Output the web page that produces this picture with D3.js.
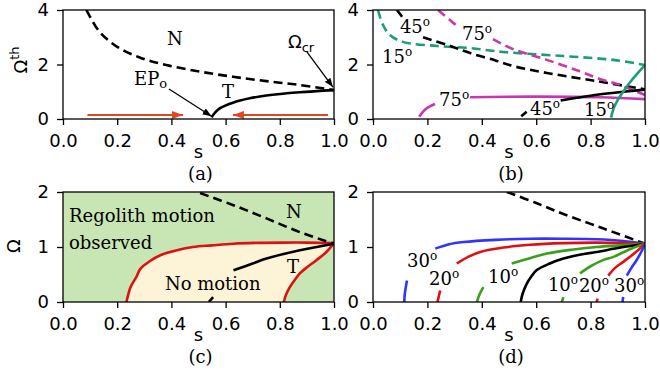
<!DOCTYPE html>
<html>
<head>
<meta charset="utf-8">
<script src="https://cdn.jsdelivr.net/npm/d3@7"></script>
<style>
  body { margin: 0; background: #fff; }
  svg { display: block; }
  .tick text { font-family: "DejaVu Sans", sans-serif; font-size: 18px; fill: #000; }
  .serif { font-family: "DejaVu Serif", serif; font-size: 18px; fill: #000; }
  .sans { font-family: "DejaVu Sans", sans-serif; font-size: 18px; fill: #000; }
</style>
</head>
<body>
<div id="chart"></div>
<script>
// ---- Data (s, Omega); NaN marks a gap left for a label ----
const xTicks = [0, 0.2, 0.4, 0.6, 0.8, 1.0];
const yTicksTop = [0, 2, 4];
const yTicksBottom = [0, 1, 2];

// (a)
const aNormal = [[0.086,4.0],[0.1,3.75],[0.135,3.2],[0.2,2.65],[0.283,2.26],[0.381,1.98],[0.504,1.74],[0.627,1.55],[0.75,1.39],[0.873,1.25],[1.0,1.06]];
const aTangent = [[0.548,0.06],[0.56,0.22],[0.578,0.39],[0.627,0.6],[0.689,0.76],[0.75,0.86],[0.873,0.98],[1.0,1.06]];
const aArrows = [ // from, to
  [[0.09,0.147],[0.443,0.147]],
  [[0.978,0.147],[0.627,0.147]]
];
const aPointers = [
  [[0.391,1.10],[0.548,0.10]],  // EP_o
  [[0.90,2.46],[0.996,1.17]]    // Omega_cr
];

// (b) angle variants
const bCurves = [
  { angle: "15", color: "#1b9e77", dashed: true,
    pts: [[0.018,4.0],[0.037,3.45],[0.062,3.08],[0.11,2.83],[0.235,2.68],[0.357,2.6],[0.478,2.46],[0.70,2.31],[0.884,2.17],[1.0,1.98]] },
  { angle: "45", color: "#000", dashed: true,
    pts: [[0.088,4.0],[0.107,3.75],[NaN,NaN],[0.184,3.0],[0.272,2.72],[0.357,2.42],[0.45,2.15],[0.516,1.94],[0.639,1.69],[0.822,1.39],[1.0,1.09]] },
  { angle: "75", color: "#c837ab", dashed: true,
    pts: [[0.239,4.0],[0.283,3.63],[0.313,3.38],[NaN,NaN],[0.441,2.93],[0.516,2.56],[0.639,2.17],[0.76,1.75],[0.84,1.45],[0.9,1.28],[0.95,1.08],[1.0,0.88]] },
  { angle: "75", color: "#c837ab", dashed: false,
    pts: [[0.17,0.08],[0.185,0.28],[0.198,0.40],[0.228,0.55],[NaN,NaN],[0.357,0.80],[0.588,0.82],[0.835,0.80],[1.0,0.73]] },
  { angle: "45", color: "#000", dashed: false,
    pts: [[0.545,0.1],[0.565,0.27],[NaN,NaN],[0.69,0.68],[0.75,0.78],[0.83,0.9],[0.92,1.0],[1.0,1.08]] },
  { angle: "15", color: "#1b9e77", dashed: false,
    pts: [[0.875,0.05],[0.885,0.4],[0.9,0.7],[0.92,1.0],[0.945,1.35],[0.97,1.65],[1.0,1.98]] }
];
const bLabels = [
  ["45",0.099,3.16],["75",0.327,2.9],["15",0.033,2.06],
  ["75",0.243,0.48],["45",0.577,0.15],["15",0.776,0.11]
];

// (c) regions
const cNormal = [[0.506,1.98],[0.629,1.76],[0.751,1.52],[0.874,1.27],[1.0,1.06]];
const cLeftBound = [[0.234,0],[0.24,0.12],[0.249,0.27],[0.27,0.45],[0.286,0.606],[0.32,0.74],[0.359,0.85],[0.42,0.94],[0.48,1.0],[0.55,1.03],[0.629,1.06],[0.72,1.075],[0.812,1.08],[0.9,1.08],[1.0,1.07]];
const cRightBound = [[0.815,0],[0.822,0.12],[0.837,0.27],[0.855,0.4],[0.874,0.52],[0.9,0.63],[0.935,0.76],[0.97,0.9],[1.0,1.07]];
const cTangent = [[0.538,0.0],[0.554,0.09],[NaN,NaN],[0.629,0.576],[0.70,0.70],[0.751,0.79],[0.874,0.94],[1.0,1.06]];

// (d) slope variants
const dNormal = [[0.492,2.0],[0.6,1.8],[0.7,1.6],[0.8,1.42],[0.884,1.27],[1.0,1.06]];
const dCurves = [
  { color: "#3333ff", pts: [[0.115,0],[0.117,0.15],[0.125,0.39],[NaN,NaN],[0.229,0.97],[0.28,1.05],[0.333,1.09],[0.45,1.13],[0.578,1.15],[0.7,1.15],[0.822,1.14],[0.92,1.11],[1.0,1.06]] },
  { color: "#dd1111", pts: [[0.237,0],[0.247,0.21],[NaN,NaN],[0.308,0.70],[0.35,0.82],[0.394,0.91],[0.48,0.99],[0.578,1.04],[0.7,1.07],[0.822,1.08],[1.0,1.06]] },
  { color: "#3a9f1a", pts: [[0.382,0],[0.39,0.12],[0.406,0.27],[NaN,NaN],[0.51,0.70],[0.58,0.8],[0.639,0.88],[0.73,0.95],[0.822,1.0],[0.91,1.03],[1.0,1.06]] },
  { color: "#000", pts: [[0.543,0],[0.55,0.15],[0.565,0.33],[0.58,0.45],[0.602,0.58],[0.65,0.7],[0.7,0.79],[0.76,0.86],[0.822,0.91],[0.91,0.99],[1.0,1.06]] },
  { color: "#3a9f1a", pts: [[0.694,0],[0.70,0.09],[NaN,NaN],[0.761,0.52],[0.8,0.65],[0.85,0.77],[0.884,0.82],[0.94,0.95],[1.0,1.06]] },
  { color: "#dd1111", pts: [[0.822,0],[0.826,0.06],[NaN,NaN],[0.865,0.48],[0.89,0.62],[0.92,0.73],[0.96,0.88],[1.0,1.06]] },
  { color: "#3333ff", pts: [[0.917,0],[0.92,0.09],[NaN,NaN],[0.933,0.48],[0.95,0.62],[0.969,0.76],[0.985,0.9],[1.0,1.06]] }
];
const dLabels = [
  ["30",0.125,0.64],["20",0.206,0.31],["10",0.423,0.35],
  ["10",0.643,0.2],["20",0.757,0.18],["30",0.886,0.18]
];

// ---- Layout -----------------------------------------------------------------
const width = 660, height = 383;
const smooth = d3.curveCatmullRom.alpha(0.5);
const svg = d3.select("#chart").append("svg")
  .attr("width", width).attr("height", height);

const defs = svg.append("defs");
function marker(id, color, w, h) {
  defs.append("marker")
    .attr("id", id).attr("viewBox", `0 0 ${w} ${h}`)
    .attr("refX", w).attr("refY", h / 2)
    .attr("markerWidth", w).attr("markerHeight", h)
    .attr("markerUnits", "userSpaceOnUse")
    .attr("orient", "auto")
    .append("path").attr("d", `M0,0L${w},${h / 2}L0,${h}Z`).attr("fill", color);
}
marker("headRed", "#e2461c", 11, 8);
marker("headBlack", "#000", 9, 7);

function panel(box, yMax, yTicks) {
  const x = d3.scaleLinear().domain([0, 1]).range([box.x0, box.x1]);
  const y = d3.scaleLinear().domain([0, yMax]).range([box.y1, box.y0]);
  const g = svg.append("g");
  const clipId = "clip" + box.id;
  defs.append("clipPath").attr("id", clipId).append("rect")
    .attr("x", box.x0).attr("y", box.y0)
    .attr("width", box.x1 - box.x0).attr("height", box.y1 - box.y0);
  const plot = g.append("g").attr("clip-path", `url(#${clipId})`);
  const over = g.append("g");
  return { x, y, g, plot, over, box, yTicks };
}

function finishPanel(p, label) {
  const { x, y, g, box } = p;
  g.append("rect")
    .attr("x", box.x0).attr("y", box.y0)
    .attr("width", box.x1 - box.x0).attr("height", box.y1 - box.y0)
    .attr("fill", "none").attr("stroke", "#000").attr("stroke-width", 1.3);
  const xa = g.append("g").attr("transform", `translate(0,${box.y1})`)
    .call(d3.axisBottom(x).tickValues(xTicks).tickFormat(d3.format(".1f"))
      .tickSize(6).tickSizeOuter(0).tickPadding(9));
  const ya = g.append("g").attr("transform", `translate(${box.x0},0)`)
    .call(d3.axisLeft(y).tickValues(p.yTicks).tickFormat(d3.format("d"))
      .tickSize(6).tickSizeOuter(0).tickPadding(8));
  [xa, ya].forEach(a => {
    a.select(".domain").remove();
    a.selectAll(".tick line").attr("stroke", "#000").attr("stroke-width", 1.3);
  });
  const cx = (box.x0 + box.x1) / 2;
  g.append("text").attr("class", "sans").attr("x", cx).attr("y", box.y1 + 39)
    .attr("text-anchor", "middle").text("s");
  g.append("text").attr("class", "serif").attr("x", cx + 2).attr("y", box.y1 + 61)
    .attr("text-anchor", "middle").text(label);
}

const line = (p) => d3.line().defined(d => !isNaN(d[0]))
  .x(d => p.x(d[0])).y(d => p.y(d[1])).curve(smooth);

function curve(p, pts, color, dashed, w) {
  p.plot.append("path").attr("d", line(p)(pts))
    .attr("fill", "none").attr("stroke", color)
    .attr("stroke-width", w || 2.6)
    .attr("stroke-dasharray", dashed ? "9,5" : null);
}

function degLabel(p, txt, sx, sy) {
  const t = p.over.append("text").attr("class", "serif")
    .attr("x", p.x(sx)).attr("y", p.y(sy));
  t.append("tspan").text(txt);
  t.append("tspan").attr("dy", -7).attr("font-size", 12).text("o");
}

// ---- (a) ---------------------------------------------------------------------
const pa = panel({ id: "a", x0: 63, x1: 334, y0: 10, y1: 119 }, 4, yTicksTop);
curve(pa, aNormal, "#000", true);
curve(pa, aTangent, "#000", false);
aArrows.forEach(([a, b]) => {
  pa.over.append("line")
    .attr("x1", pa.x(a[0])).attr("y1", pa.y(a[1]))
    .attr("x2", pa.x(b[0])).attr("y2", pa.y(b[1]))
    .attr("stroke", "#e2461c").attr("stroke-width", 2)
    .attr("marker-end", "url(#headRed)");
});
aPointers.forEach(([a, b]) => {
  pa.over.append("line")
    .attr("x1", pa.x(a[0])).attr("y1", pa.y(a[1]))
    .attr("x2", pa.x(b[0])).attr("y2", pa.y(b[1]))
    .attr("stroke", "#000").attr("stroke-width", 1.3)
    .attr("marker-end", "url(#headBlack)");
});
pa.over.append("text").attr("class", "serif").attr("x", pa.x(0.384)).attr("y", pa.y(2.72)).text("N");
pa.over.append("text").attr("class", "serif").attr("x", pa.x(0.587)).attr("y", pa.y(0.77)).text("T");
{
  const t = pa.over.append("text").attr("class", "serif").attr("x", pa.x(0.262)).attr("y", pa.y(1.25));
  t.append("tspan").text("EP");
  t.append("tspan").attr("dy", 3).attr("font-size", 13).text("o");
  const o = pa.over.append("text").attr("class", "sans").attr("x", pa.x(0.83)).attr("y", pa.y(2.6));
  o.append("tspan").text("Ω");
  o.append("tspan").attr("dy", 4).attr("font-size", 13).text("cr");
}
{
  const t = svg.append("text").attr("class", "sans").attr("text-anchor", "middle")
    .attr("transform", "translate(27,60) rotate(-90)");
  t.append("tspan").text("Ω");
  t.append("tspan").attr("dy", -8).attr("font-size", 13).text("th");
}
finishPanel(pa, "(a)");

// ---- (b) ---------------------------------------------------------------------
const pb = panel({ id: "b", x0: 373, x1: 645, y0: 10, y1: 119 }, 4, yTicksTop);
bCurves.forEach(c => curve(pb, c.pts, c.color, c.dashed));
bLabels.forEach(([t, sx, sy]) => degLabel(pb, t, sx, sy));
finishPanel(pb, "(b)");

// ---- (c) ---------------------------------------------------------------------
const pc = panel({ id: "c", x0: 63, x1: 334, y0: 192, y1: 302 }, 2, yTicksBottom);
pc.plot.append("rect")
  .attr("x", pc.x(0)).attr("y", pc.y(2))
  .attr("width", pc.x(1) - pc.x(0)).attr("height", pc.y(0) - pc.y(2))
  .attr("fill", "#c8e6b4");
pc.plot.append("path")
  .attr("d", d3.line().x(d => pc.x(d[0])).y(d => pc.y(d[1])).curve(d3.curveCatmullRomClosed.alpha(0.5))(cLeftBound.concat(cRightBound.slice().reverse())))
  .attr("fill", "#fdf3d6");
curve(pc, cLeftBound, "#dd1111", false);
curve(pc, cRightBound, "#dd1111", false);
curve(pc, cNormal, "#000", true);
curve(pc, cTangent, "#000", false);
pc.over.append("text").attr("class", "serif").attr("x", pc.x(0.022)).attr("y", pc.y(1.45)).text("Regolith motion");
pc.over.append("text").attr("class", "serif").attr("x", pc.x(0.022)).attr("y", pc.y(0.96)).text("observed");
pc.over.append("text").attr("class", "serif").attr("x", pc.x(0.376)).attr("y", pc.y(0.22)).text("No motion");
pc.over.append("text").attr("class", "serif").attr("x", pc.x(0.827)).attr("y", pc.y(0.53)).text("T");
pc.over.append("text").attr("class", "serif").attr("x", pc.x(0.823)).attr("y", pc.y(1.53)).text("N");
svg.append("text").attr("class", "sans").attr("text-anchor", "middle")
  .attr("transform", "translate(20,246) rotate(-90)").text("Ω");
finishPanel(pc, "(c)");

// ---- (d) ---------------------------------------------------------------------
const pd = panel({ id: "d", x0: 373, x1: 645, y0: 192, y1: 302 }, 2, yTicksBottom);
curve(pd, dNormal, "#000", true);
dCurves.forEach(c => curve(pd, c.pts, c.color, false));
dLabels.forEach(([t, sx, sy]) => degLabel(pd, t, sx, sy));
finishPanel(pd, "(d)");
</script>
</body>
</html>
